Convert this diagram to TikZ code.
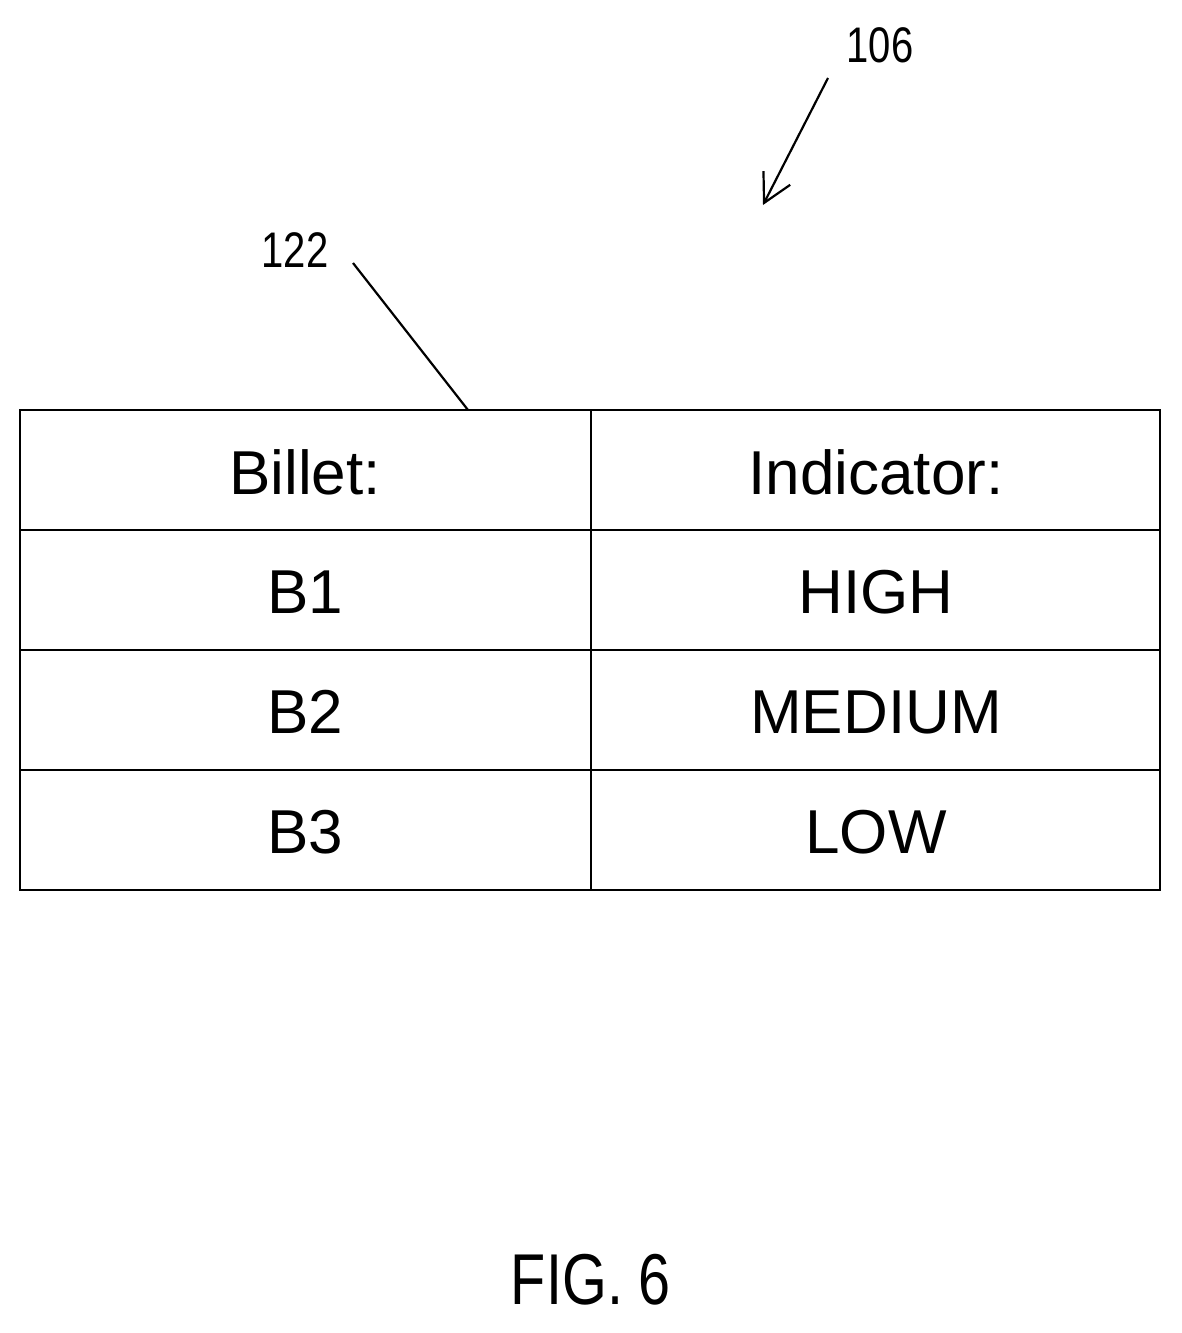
\documentclass[tikz,border=0pt]{standalone}
\usepackage{fontspec}
\setmainfont{Liberation Sans}
\usetikzlibrary{arrows.meta}
\begin{document}
\begin{tikzpicture}[x=1pt,y=-1pt,
  cell/.style={font=\fontsize{62}{70}\selectfont},
  lbl/.style={font=\fontsize{50}{56}\selectfont, xscale=0.8},
  ln/.style={line width=2.2pt}]
\useasboundingbox (0,0) rectangle (1182,1333);
\draw[ln] (20,410) rectangle (1160,890);
\foreach \y in {530,650,770} \draw[ln] (20,\y) -- (1160,\y);
\draw[ln] (591,410) -- (591,890);
\node[cell] (h1) at (305,472) {Billet:};
\node[cell] (h2) at (876,472) {Indicator:};
\node[cell] (b1) at (305,592) {B1};
\node[cell] (i1) at (876,592) {HIGH};
\node[cell] (b2) at (305,712) {B2};
\node[cell] (i2) at (876,712) {MEDIUM};
\node[cell] (b3) at (305,832) {B3};
\node[cell] (i3) at (876,832) {LOW};
\node[lbl] (l106) at (880,45) {106};
\node[lbl] (l122) at (295,250) {122};
\coordinate (a1) at (828,78);
\coordinate (a2) at (763,205);
\draw[ln,-{Straight Barb[length=28pt,width=30pt,line width=2.2pt]}] (a1) -- (a2);
\coordinate (c1) at (353,263);
\coordinate (c2) at (468,410);
\draw[ln] (c1) -- (c2);
\node[font=\fontsize{72}{80}\selectfont, xscale=0.8] (fig) at (591,1280) {FIG. 6};
\end{tikzpicture}
\end{document}
